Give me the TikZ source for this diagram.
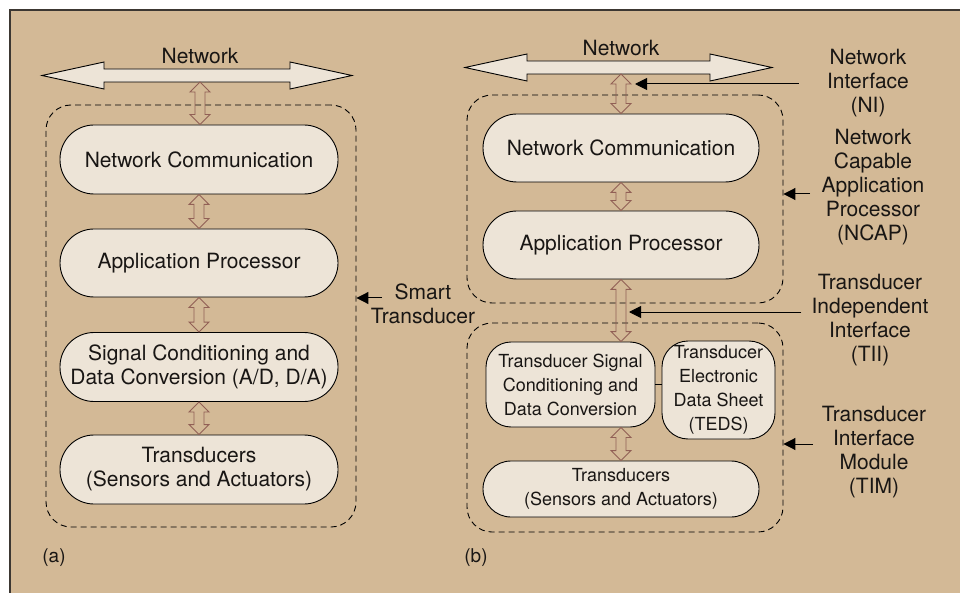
\documentclass[tikz,border=0pt]{standalone}
\usepackage{fontspec}
\setmainfont{TeX Gyre Heros}
\usetikzlibrary{calc,arrows.meta}

\definecolor{tanbg}{RGB}{211,185,150}
\definecolor{boxfill}{RGB}{237,228,215}
\definecolor{arrbrown}{RGB}{145,95,85}
\definecolor{framegray}{RGB}{60,55,50}
\definecolor{txt}{RGB}{25,22,20}

\tikzset{
  blk/.style={draw=black,fill=boxfill,line width=0.9pt,align=center,inner sep=0pt,
    text=txt,font=\fontsize{21}{24}\selectfont},
  smallblk/.style={blk,font=\fontsize{18}{24}\selectfont},
  dashbox/.style={draw=black,dash pattern=on 6pt off 4pt,line width=0.9pt,rounded corners=25pt,inner sep=0pt},
  lbl/.style={align=center,text=txt,font=\fontsize{21}{24}\selectfont,inner sep=0pt},
  netarr/.style={draw=black,fill=boxfill,line width=0.9pt},
  dblarr/.style={draw=arrbrown,line width=0.9pt},
  ptr/.style={draw=black,line width=1pt,-{Triangle[length=12pt,width=12pt]}}
}

% open double arrow between two points, first one on top
\newcommand\dblarrow[2]{%
  \draw[dblarr] let \p1=#1, \p2=#2 in
    (\x1,\y1) -- (\x1+10pt,\y1-10pt) -- (\x1+5pt,\y1-10pt) -- (\x1+5pt,\y2+10pt)
    -- (\x1+10pt,\y2+10pt) -- (\x1,\y2) -- (\x1-10pt,\y2+10pt) -- (\x1-5pt,\y2+10pt)
    -- (\x1-5pt,\y1-10pt) -- (\x1-10pt,\y1-10pt) -- cycle;}

\begin{document}
\begin{tikzpicture}[x=1pt,y=-1pt]
  \useasboundingbox (0,0) rectangle (960,593);
  \fill[tanbg] (10,10) rectangle (960,593);
  \draw[framegray,line width=2pt] (10,593) -- (10,10) -- (960,10);

  % (a) smart transducer
  \draw[netarr] (42,75.5) -- (104,62) -- (104,69) -- (290,69) -- (290,62) -- (352,75.5)
    -- (290,89) -- (290,82) -- (104,82) -- (104,89) -- cycle;
  \node[lbl] (neta) at (200,56) {Network};
  \coordinate (netabot) at (200,82);

  \node[dashbox,minimum width=310,minimum height=422] (boxa) at (201,316) {};
  \node[blk,minimum width=278,minimum height=69,rounded corners=34pt] (nca) at (199,159.5) {Network Communication};
  \node[blk,minimum width=278,minimum height=68,rounded corners=34pt] (apa) at (199,263) {Application Processor};
  \node[blk,minimum width=278,minimum height=69,rounded corners=34pt] (sca) at (199,367) {Signal Conditioning and\\Data Conversion (A/D, D/A)};
  \node[blk,minimum width=278,minimum height=69,rounded corners=34pt] (tra) at (199,469.5) {Transducers\\(Sensors and Actuators)};

  \dblarrow{(netabot)}{(nca.north)}
  \dblarrow{(nca.south)}{(apa.north)}
  \dblarrow{(apa.south)}{(sca.north)}
  \dblarrow{(sca.south)}{(tra.north)}

  \node[lbl] (smart) at (423,304) {Smart\\Transducer};
  \coordinate (smarttail) at (382,298);
  \draw[ptr] (smarttail) -- (smarttail -| boxa.east);
  \node[lbl,font=\fontsize{19}{24}\selectfont] (laba) at (54,558) {(a)};

  % (b) IEEE 1451 split
  \draw[netarr] (465,67.5) -- (527,54) -- (527,61) -- (710,61) -- (710,54) -- (772,67.5)
    -- (710,81) -- (710,74) -- (527,74) -- (527,81) -- cycle;
  \node[lbl] (netb) at (621,48) {Network};
  \coordinate (netbbot) at (621,74);

  \node[dashbox,minimum width=316,minimum height=208] (ncap) at (625,199) {};
  \node[blk,minimum width=276,minimum height=68,rounded corners=34pt] (ncb) at (621,148) {Network Communication};
  \node[blk,minimum width=276,minimum height=68,rounded corners=34pt] (apb) at (621,245) {Application Processor};

  \node[dashbox,minimum width=316,minimum height=209] (tim) at (625,427.5) {};
  \node[smallblk,minimum width=169,minimum height=85,rounded corners=25pt] (tsc) at (570.5,384.5) {Transducer Signal\\Conditioning and\\Data Conversion};
  \node[smallblk,minimum width=113,minimum height=98,rounded corners=26pt] (teds) at (718.5,390) {Transducer\\Electronic\\Data Sheet\\(TEDS)};
  \draw[line width=0.9pt] (tsc.east) -- (tsc.east -| teds.west);
  \node[smallblk,minimum width=276,minimum height=56,rounded corners=28pt] (trb) at (621,489) {Transducers\\(Sensors and Actuators)};

  \dblarrow{(netbbot)}{(ncb.north)}
  \dblarrow{(ncb.south)}{(apb.north)}
  \dblarrow{(apb.south)}{(apb.south |- tsc.north)}
  \dblarrow{(apb.south |- tsc.south)}{(trb.north)}

  \node[lbl] (ni) at (868,83) {Network\\Interface\\(NI)};
  \coordinate (nitip) at (635,84);
  \draw[ptr] (ni.west |- nitip) ++(-28,0) -- (nitip);

  \node[lbl] (ncaplbl) at (873,187.5) {Network\\Capable\\Application\\Processor\\(NCAP)};
  \coordinate (ncaptail) at (810,194);
  \draw[ptr] (ncaptail) -- (ncaptail -| ncap.east);

  \node[lbl] (tii) at (870,320) {Transducer\\Independent\\Interface\\(TII)};
  \coordinate (tiitip) at (629,312);
  \draw[ptr] (tii.west |- tiitip) ++(-10,0) -- (tiitip);

  \node[lbl] (timlbl) at (874,452) {Transducer\\Interface\\Module\\(TIM)};
  \coordinate (timtail) at (813,444);
  \draw[ptr] (timtail) -- (timtail -| tim.east);

  \node[lbl,font=\fontsize{19}{24}\selectfont] (labb) at (476,558) {(b)};
\end{tikzpicture}
\end{document}
